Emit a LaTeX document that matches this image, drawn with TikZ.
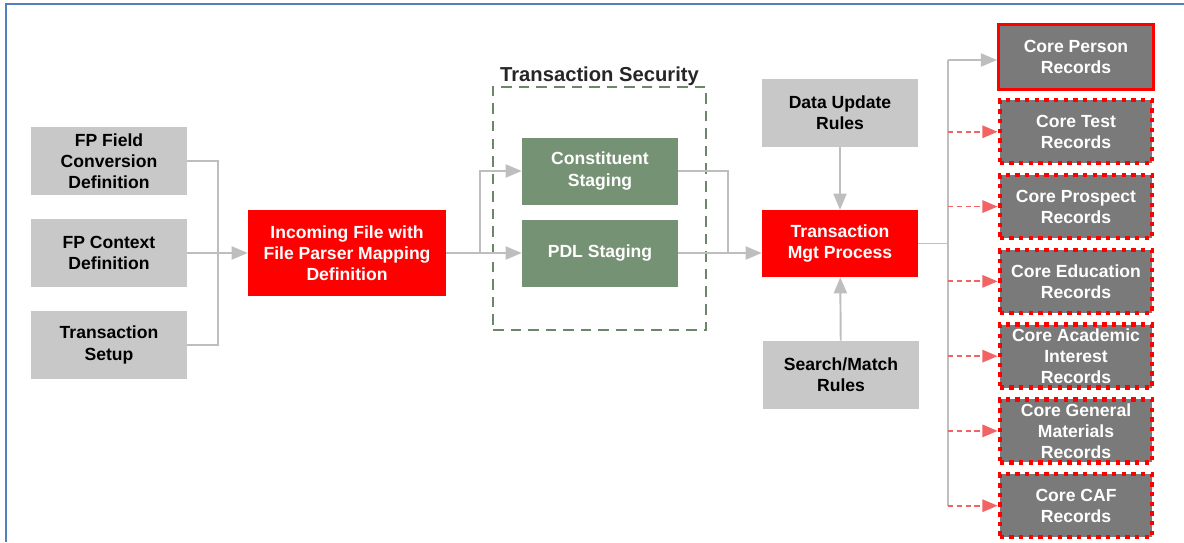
\documentclass[tikz,border=0pt]{standalone}
\usepackage{fontspec}
\setmainfont{Liberation Sans}
\usepackage{tikz}
\usetikzlibrary{arrows,positioning}

\definecolor{ingrey}{RGB}{200,200,200}
\definecolor{coregrey}{RGB}{122,122,122}
\definecolor{procred}{RGB}{255,0,0}
\definecolor{stagegreen}{RGB}{118,146,116}
\definecolor{secgreen}{RGB}{108,134,106}
\definecolor{linegrey}{RGB}{190,190,190}
\definecolor{optred}{RGB}{242,100,100}
\definecolor{framblue}{RGB}{79,129,189}

\tikzset{
  inbox/.style={fill=ingrey,text=black,minimum width=3.12cm,minimum height=1.36cm},
  redbox/.style={fill=procred,text=white,minimum width=3.12cm,minimum height=1.34cm},
  greenbox/.style={fill=stagegreen,text=white,minimum width=3.12cm,minimum height=1.34cm},
  secframe/.style={draw=secgreen,line width=1.4pt,dash pattern=on 6pt off 4pt,minimum width=4.26cm,minimum height=4.86cm},
  mainrec/.style={fill=coregrey,text=white,draw=procred,line width=1.8pt,minimum width=3.1cm,minimum height=1.3cm},
  otherrec/.style={fill=coregrey,text=white,draw=procred,line width=2.5pt,dash pattern=on 2.5pt off 3pt,minimum width=3.05cm,minimum height=1.26cm},
  conn/.style={draw=linegrey,line width=1.1pt},
  optconn/.style={draw=optred,line width=1pt,dash pattern=on 3pt off 2pt},
}

\begin{document}
\begin{tikzpicture}[x=0.02cm,y=-0.02cm,>=triangle 45,node distance=1.84cm,every node/.style={font=\bfseries\fontsize{10}{12}\selectfont,align=center,inner sep=1pt}]
\useasboundingbox (0,0) rectangle (1184,542);
\draw[framblue,line width=0.9pt] (1184,4) -- (6,4) -- (6,542);

% inputs
\node[inbox] (fp1) at (109,161) {FP Field\\Conversion\\Definition};
\node[inbox] (fp2) [below of=fp1] {FP Context\\Definition};
\node[inbox] (ts)  [below of=fp2] {Transaction\\Setup};
\node[redbox,minimum width=3.96cm,minimum height=1.72cm] (inc) at (347,253) {Incoming File with\\File Parser Mapping\\Definition};

% staging
\node[secframe] (sec) at (599.5,208.5) {};
\node[above=-1pt of sec,font=\bfseries\fontsize{11.5}{13}\selectfont,text=black!85] (seclbl) {Transaction Security};
\node[greenbox] (cs)  at (600,171) {Constituent\\Staging};
\node[greenbox] (pdl) at (600,253) {PDL Staging};

% transaction management
\node[inbox] (du)  at (840,113) {Data Update\\Rules};
\node[redbox] (tmp) at (840,243.5) {Transaction\\Mgt Process};
\node[inbox] (sm)  at (841,375) {Search/Match\\Rules};

% records
\node[mainrec] (cp) at (1076,57) {Core Person\\Records};
\node[otherrec,node distance=1.496cm] (ct)  [below of=cp]  {Core Test\\Records};
\node[otherrec,node distance=1.496cm] (cpr) [below of=ct]  {Core Prospect\\Records};
\node[otherrec,node distance=1.496cm] (ced) [below of=cpr] {Core Education\\Records};
\node[otherrec,node distance=1.496cm] (cai) [below of=ced] {Core Academic\\Interest\\Records};
\node[otherrec,node distance=1.496cm] (cgm) [below of=cai] {Core General\\Materials\\Records};
\node[otherrec,node distance=1.496cm] (caf) [below of=cgm] {Core CAF\\Records};

\coordinate (j1) at (218,253);
\coordinate (j2) at (480,253);
\coordinate (j3) at (728,253);
\coordinate (bt) at (948,60);
\coordinate (bb) at (948,506);

\draw[conn] (fp1) -| (j1);
\draw[conn] (ts) -| (j1);
\draw[conn,->] (fp2) -- (fp2 -| inc.west);
\draw[conn] (inc) -- (j2);
\draw[conn,->] (j2) |- (cs);
\draw[conn,->] (j2) -- (pdl);
\draw[conn] (cs) -| (j3);
\draw[conn,->] (pdl) -- (pdl -| tmp.west);
\draw[conn,->] (du) -- (tmp);
\draw[conn,->] (sm) -- (tmp);
\draw[conn] (bt) -- (bb);
\draw[conn] (tmp) -- (tmp -| bt);
\draw[conn,->] (bt) -- (bt -| cp.west);
\foreach \c in {ct,cpr,ced,cai,cgm,caf}
  \draw[optconn,->] (bt |- \c) -- (\c);
\end{tikzpicture}
\end{document}
